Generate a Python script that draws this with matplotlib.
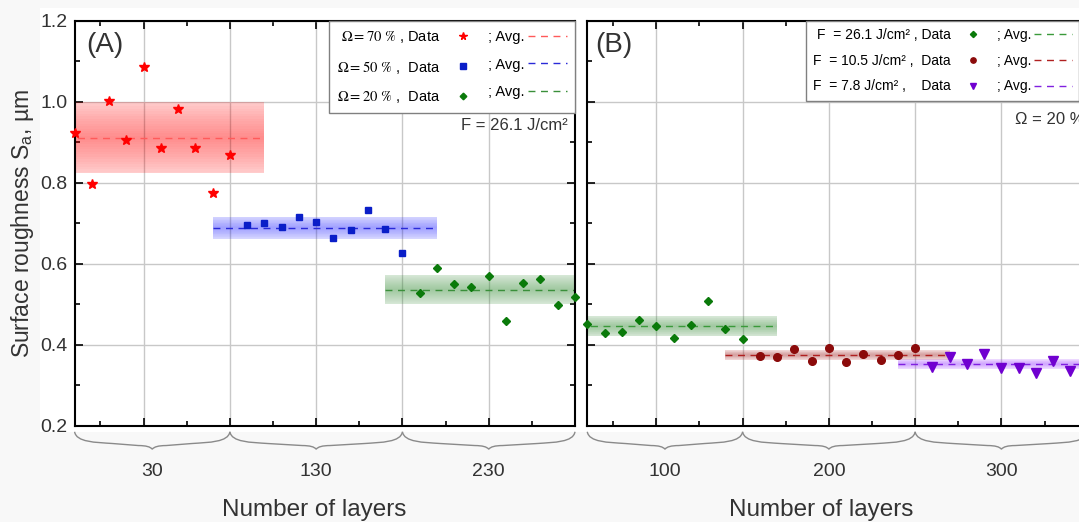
import numpy as np
import matplotlib
matplotlib.use('Agg')
import matplotlib.pyplot as plt
import matplotlib.transforms as mtransforms
from matplotlib.path import Path
from matplotlib.patches import PathPatch, Rectangle

plt.rcParams['font.family'] = ['Liberation Sans', 'DejaVu Sans']
plt.rcParams['mathtext.fontset'] = 'stix'

# ---- panel A : F = 26.1 J/cm2, three coverages ----
layers_a = ['30', '130', '230']
labels_a = [r'$\Omega = 70\ \%$ , Data', r'$\Omega = 50\ \%$ ,  Data', r'$\Omega = 20\ \%$ ,  Data']
sa_om70 = [0.922, 0.798, 1.002, 0.905, 1.086, 0.886, 0.983, 0.886, 0.775, 0.868]
sa_om50 = [0.695, 0.700, 0.691, 0.716, 0.704, 0.663, 0.683, 0.732, 0.685, 0.627]
sa_om20 = [0.528, 0.590, 0.551, 0.542, 0.569, 0.459, 0.552, 0.562, 0.497, 0.519]
avg_a = [0.911, 0.689, 0.536]
std_a = [0.088, 0.027, 0.036]

# ---- panel B : Omega = 20 %, three fluences ----
layers_b = ['100', '200', '300']
labels_b = ['F  = 26.1 J/cm\u00b2 , Data', 'F  = 10.5 J/cm\u00b2 ,  Data', 'F  = 7.8 J/cm\u00b2 ,    Data']
sa_f261 = [0.450, 0.428, 0.432, 0.460, 0.445, 0.416, 0.449, 0.507, 0.440, 0.414]
sa_f105 = [0.372, 0.370, 0.389, 0.360, 0.393, 0.357, 0.376, 0.362, 0.375, 0.392]
sa_f78 = [0.346, 0.369, 0.352, 0.376, 0.342, 0.343, 0.329, 0.360, 0.335]
avg_b = [0.4455, 0.3746, 0.3524]
std_b = [0.0245, 0.0115, 0.0115]

txt = '#333333'


def band(ax, x0, x1, m, s, color):
    # soft band, darker in the middle
    ax.fill_between([x0, x1], m - s, m + s, color=color, alpha=0.2, lw=0, zorder=1)
    for f in np.linspace(0.95, 0.05, 14):
        ax.fill_between([x0, x1], m - s * f, m + s * f, color=color, alpha=0.025, lw=0, zorder=1)


def brace(ax, xa, xb):
    xm = (xa + xb) / 2
    y0, y1, y2 = -0.015, -0.041, -0.058
    verts = [(xa, y0), (xa + 0.1, y1), (xa + 1.2, y1), (xa + 2.2, y1 - 0.003),
             (xm - 0.8, y1 - 0.008),
             (xm - 0.15, y1 - 0.008), (xm, y2),
             (xm + 0.15, y1 - 0.008), (xm + 0.8, y1 - 0.008),
             (xb - 2.2, y1 - 0.003),
             (xb - 1.2, y1), (xb - 0.1, y1), (xb, y0)]
    codes = [Path.MOVETO, Path.CURVE4, Path.CURVE4, Path.CURVE4, Path.LINETO,
             Path.CURVE3, Path.CURVE3, Path.CURVE3, Path.CURVE3, Path.LINETO,
             Path.CURVE4, Path.CURVE4, Path.CURVE4]
    tr = mtransforms.blended_transform_factory(ax.transData, ax.transAxes)
    ax.add_patch(PathPatch(Path(verts, codes), transform=tr, fill=False,
                           edgecolor='#8a8a8a', lw=1.0, clip_on=False))


def panel(ax, series, avgs, stds, markers, mcolors, bcolors, lcolors, msizes, labels, layers):
    data_h, avg_h = [], []
    for k, y in enumerate(series):
        x = np.arange(1, len(y) + 1) + 10 * k
        x0, x1 = 10 * k - 1, 10 * k + 12
        band(ax, x0, x1, avgs[k], stds[k], bcolors[k])
        la, = ax.plot([x0, x1], [avgs[k], avgs[k]], ls=(0, (5, 4)), lw=1.0,
                      color=lcolors[k], zorder=2)
        ld, = ax.plot(x, y, ls='none', marker=markers[k], ms=msizes[k],
                      color=mcolors[k], mec=mcolors[k], zorder=3, clip_on=False)
        data_h.append(ld)
        avg_h.append(la)
        brace(ax, 10 * k if k else 1, 10 * k + 10)
        ax.text(10 * k + (5.5 if k == 0 else 5), -0.112, layers[k], fontsize=14, color=txt,
                ha='center', va='center',
                transform=mtransforms.blended_transform_factory(ax.transData, ax.transAxes))
    ax.set_xlim(1, 30)
    ax.set_ylim(0.2, 1.2)
    ax.set_xticks([5, 10, 15, 20, 25])
    ax.set_xticks(np.arange(2.5, 30, 5), minor=True)
    ax.set_yticks([0.2, 0.4, 0.6, 0.8, 1.0, 1.2])
    ax.set_yticks([0.3, 0.5, 0.7, 0.9, 1.1], minor=True)
    ax.grid(True, which='major', color='#c8c8c8', lw=1.0)
    ax.set_axisbelow(True)
    ax.tick_params(which='both', direction='in', top=True, right=True, width=1.2,
                   labelbottom=False, labelsize=14, labelcolor=txt, pad=5)
    ax.tick_params(which='major', length=6)
    ax.tick_params(which='minor', length=3.5)
    for sp in ax.spines.values():
        sp.set_linewidth(1.5)
    return data_h, avg_h


fig = plt.figure(figsize=(10.79, 5.22), dpi=100, facecolor='#f8f8f8')
fig.add_artist(Rectangle((0.037, 0.172), 0.963, 0.813, transform=fig.transFigure,
                         facecolor='white', edgecolor='none', zorder=-10))

W, H = 500.4 / 1079, 405 / 522
B0 = 1 - 425.7 / 522
ax_a = fig.add_axes([74.6 / 1079, B0, W, H])
ax_b = fig.add_axes([587.3 / 1079, B0, W, H])

dh, ah = panel(ax_a, [sa_om70, sa_om50, sa_om20], avg_a, std_a,
               ['*', 's', 'D'], ['#ff0000', '#0a1ec8', '#0a7a0a'],
               ['#ff0000', '#3030ff', '#2e8b2e'], ['#ff5a5a', '#2a2ad8', '#3a8f3a'],
               [7.5, 5, 4.5], labels_a, layers_a)
ax_a.yaxis.set_major_formatter(matplotlib.ticker.FormatStrFormatter('%.1f'))
ax_a.set_ylabel(r'Surface roughness S$_\mathregular{a}$, µm', fontsize=16.5, color=txt, labelpad=3)
ax_a.legend(dh + ah, labels_a + ['; Avg.'] * 3, ncol=2, markerfirst=False,
            loc='upper right', bbox_to_anchor=(1.0, 1.0), borderaxespad=0,
            fontsize=10.5, handlelength=2.7, handletextpad=0.2, columnspacing=0.4,
            borderpad=0.55, labelspacing=0.95, fancybox=False, framealpha=1,
            edgecolor='#808080', markerscale=0.75)
ax_a.text(0.023, 0.94, '(A)', fontsize=20, color=txt, va='center', transform=ax_a.transAxes)
ax_a.text(0.986, 0.742, 'F = 26.1 J/cm\u00b2', fontsize=12, color=txt, ha='right', va='center',
          transform=ax_a.transAxes)
ax_a.text(0.478, -0.208, 'Number of layers', fontsize=17.5, color=txt, ha='center', va='center',
          transform=ax_a.transAxes)

dh, ah = panel(ax_b, [sa_f261, sa_f105, sa_f78], avg_b, std_b,
               ['D', 'o', 'v'], ['#0a7a0a', '#8b0a0a', '#7000d0'],
               ['#2e8b2e', '#b03030', '#a040ff'], ['#3a9a3a', '#b02020', '#8020e0'],
               [4.5, 5.5, 6.5], labels_b, layers_b)
ax_b.tick_params(labelleft=False)
ax_b.legend(dh + ah, labels_b + ['; Avg.'] * 3, ncol=2, markerfirst=False,
            loc='upper left', bbox_to_anchor=(0.4365, 1.0), borderaxespad=0,
            fontsize=10, handlelength=2.7, handletextpad=0.2, columnspacing=0.4,
            borderpad=0.55, labelspacing=0.83, fancybox=False, framealpha=1,
            edgecolor='#808080', markerscale=0.7)
ax_b.text(0.0154, 0.94, '(B)', fontsize=20, color=txt, va='center', transform=ax_b.transAxes)
ax_b.text(0.855, 0.757, '\u03a9 = 20 %', fontsize=12, color=txt, ha='left', va='center',
          transform=ax_b.transAxes)
ax_b.text(0.467, -0.208, 'Number of layers', fontsize=17.5, color=txt, ha='center', va='center',
          transform=ax_b.transAxes)

fig.savefig('out.png', dpi=100, facecolor=fig.get_facecolor())
